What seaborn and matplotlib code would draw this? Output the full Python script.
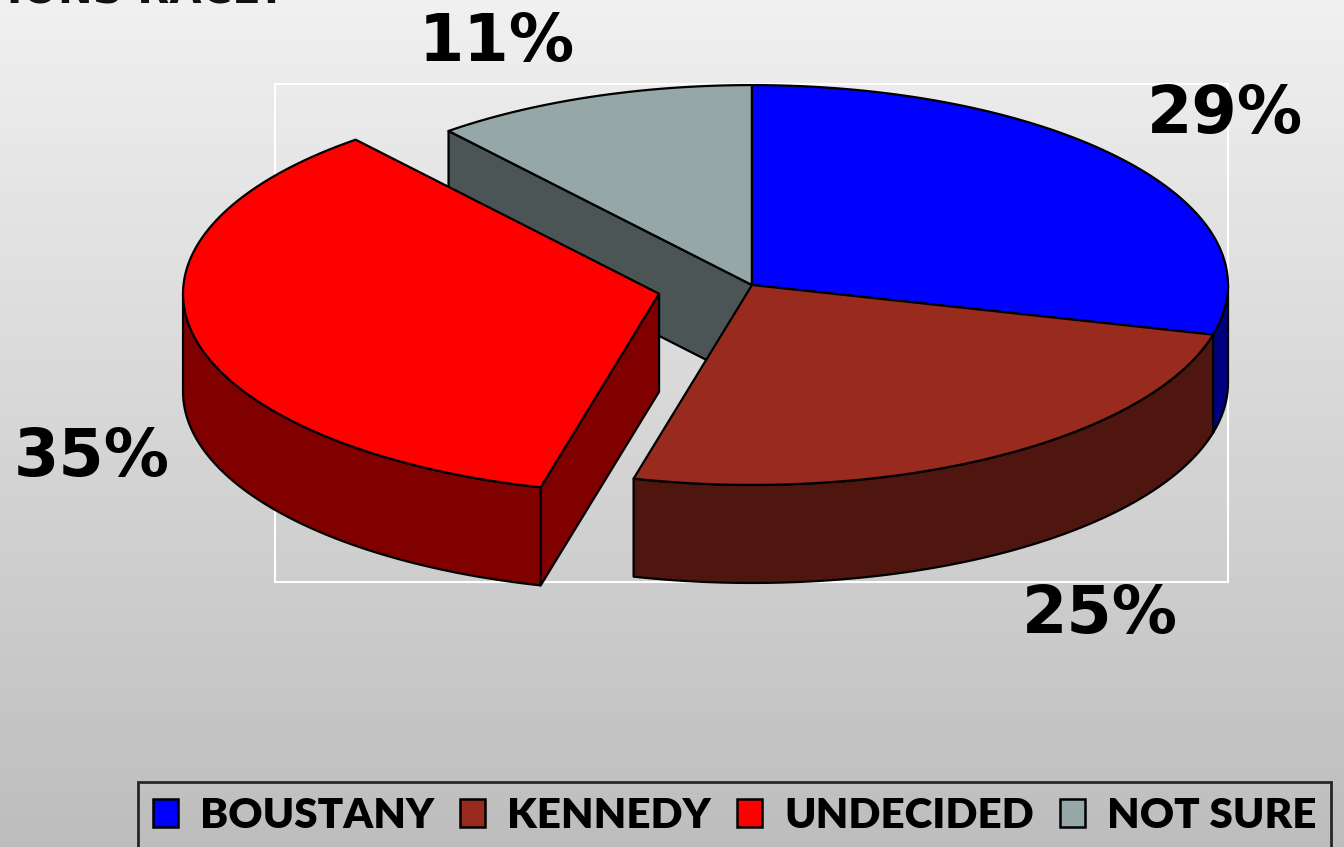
import numpy as np
import matplotlib.pyplot as plt
import seaborn as sns
from matplotlib.patches import Polygon, Patch

plt.switch_backend('Agg')

# Poll results
candidates = ['BOUSTANY', 'KENNEDY', 'UNDECIDED', 'NOT SURE']
shares = [29, 25, 35, 11]
explode = [0, 0, 0.2, 0]
top_colors = ['#0000FF', '#992A1E', '#FF0000', '#95A8A7']
side_colors = ['#000080', '#4F1610', '#800000', '#4B5555']
pct_labels = ['29%', '25%', '35%', '11%']
# label anchors in pie units (same axes as the pie)
label_xy = [(0.994, 0.358), (0.731, -0.693), (-1.387, -0.363), (-0.536, 0.508)]

RY = 0.42      # vertical squash of the pie ellipse
DEPTH = 0.206  # thickness of the pie

sns.set_theme(style='white')
plt.rcParams['font.family'] = ['DejaVu Sans']
plt.rcParams['text.color'] = 'black'

fig = plt.figure(figsize=(13.44, 8.47), dpi=100)

# grey gradient background
bg = fig.add_axes([0, 0, 1, 1], zorder=-1)
grad = np.linspace(0.94, 0.74, 256)[:, None]
bg.imshow(grad, cmap='gray', vmin=0, vmax=1, aspect='auto', extent=[0, 1, 0, 1])
bg.axis('off')

ax = fig.add_axes([275 / 1344, 1 - 582 / 847, 953 / 1344, 498 / 847])
ax.set_facecolor('none')
ax.set_xlim(-1.002, 1.0)
ax.set_ylim(-0.624, 0.4223)
ax.set_xticks([])
ax.set_yticks([])
for s in ax.spines.values():
    s.set_visible(True)
    s.set_color('white')
    s.set_linewidth(1.5)


def arc(a0, a1, ox, oy, z=0.0, n=150):
    t = np.radians(np.linspace(a0, a1, n))
    return np.column_stack([ox + np.cos(t), oy + RY * np.sin(t) + z])


def add_poly(pts, color):
    ax.add_patch(Polygon(pts, closed=True, facecolor=color, edgecolor='black',
                         linewidth=1.6, joinstyle='round', clip_on=False, zorder=3))


vals = np.array(shares, dtype=float)
cum = np.concatenate([[0], np.cumsum(vals)[:-1]])
a_start = 90 - cum * 3.6
a_end = a_start - vals * 3.6
mid = (a_start + a_end) / 2
ex = np.array(explode)
off_x = ex * np.cos(np.radians(mid))
off_y = ex * RY * np.sin(np.radians(mid))

# back to front
order = np.argsort(-np.sin(np.radians(mid)))
for i in order:
    ox, oy = off_x[i], off_y[i]
    # radial faces that look towards the viewer
    for a, vis in [(a_start[i], np.cos(np.radians(a_start[i])) < -1e-9),
                   (a_end[i], np.cos(np.radians(a_end[i])) > 1e-9)]:
        if vis:
            rx = ox + np.cos(np.radians(a))
            ry = oy + RY * np.sin(np.radians(a))
            add_poly([(ox, oy), (rx, ry), (rx, ry - DEPTH), (ox, oy - DEPTH)], side_colors[i])
    # outer wall on the front half
    lo = max(a_end[i], -180)
    hi = min(a_start[i], 0)
    if hi > lo:
        wall = np.vstack([arc(hi, lo, ox, oy), arc(lo, hi, ox, oy, -DEPTH)])
        add_poly(wall, side_colors[i])
    # top
    top = np.vstack([[ox, oy], arc(a_start[i], a_end[i], ox, oy)])
    add_poly(top, top_colors[i])

for txt, (x, y) in zip(pct_labels, label_xy):
    ax.text(x, y, txt, ha='center', va='center', fontsize=47, fontweight='bold',
            color='black', clip_on=False, zorder=5)

# heading, cut off by the top edge as in the source slide
fig.text(285 / 1344, 1 - 3 / 847, 'ELECTIONS RACE?', ha='right', va='baseline',
         fontsize=30, fontweight='bold', color='#111111')

handles = [Patch(facecolor=c, edgecolor='black', linewidth=1.8, label=l)
           for c, l in zip(top_colors, candidates)]
leg = fig.legend(handles=handles, loc='upper left',
                 bbox_to_anchor=(138 / 1344, 1 - 782 / 847), ncol=4, frameon=True,
                 prop={'family': 'Lato', 'weight': 'heavy', 'size': 30.3},
                 handlelength=0.6, handleheight=0.65, handletextpad=0.52,
                 columnspacing=0.62, borderpad=0.35, borderaxespad=0, fancybox=False)
leg.get_frame().set_edgecolor('black')
leg.get_frame().set_linewidth(2)
leg.get_frame().set_facecolor('none')
for t in leg.get_texts():
    t.set_color('black')

fig.savefig('out.png', dpi=100)
plt.close()
